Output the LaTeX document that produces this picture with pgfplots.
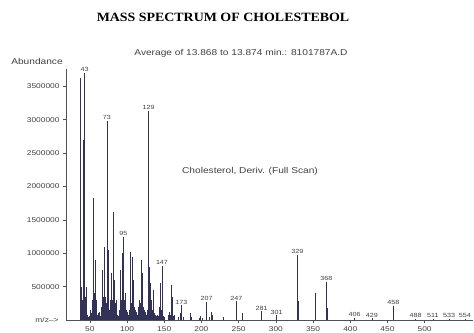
\documentclass[border=0pt]{standalone}
\usepackage{fontspec}
\setmainfont{Liberation Sans}[FakeStretch=1.2]
\newfontfamily\titlefont{Liberation Serif}[FakeStretch=1.1]
\usepackage{pgfplots}
\pgfplotsset{compat=1.18}
\usepackage{pgfplotstable}
\definecolor{spec}{RGB}{50,50,88}
\definecolor{axisgray}{RGB}{80,80,90}

\pgfplotstableread{
mz inten
37 3620000
38 200000
39 500000
40 300000
41 2700000
42 400000
43 3700000
44 350000
45 500000
46 80000
47 60000
48 40000
49 60000
50 120000
51 150000
52 100000
53 300000
54 250000
55 1830000
56 400000
57 900000
58 150000
59 300000
60 80000
61 100000
62 60000
63 120000
64 60000
65 200000
66 150000
67 750000
68 350000
69 1100000
70 300000
71 350000
72 250000
73 2980000
74 450000
75 1050000
76 150000
77 300000
78 180000
79 700000
80 300000
81 1620000
82 300000
83 600000
84 250000
85 300000
86 100000
87 80000
88 60000
89 100000
90 150000
91 750000
92 300000
93 1000000
94 350000
95 1250000
96 300000
97 400000
98 200000
99 150000
100 120000
101 100000
102 80000
103 150000
104 200000
105 1020000
106 250000
107 950000
108 300000
109 600000
110 200000
111 150000
112 100000
113 120000
114 80000
115 200000
116 150000
117 300000
118 250000
119 900000
120 300000
121 700000
122 200000
123 150000
124 100000
125 120000
126 80000
127 150000
128 300000
129 3130000
130 800000
131 550000
132 200000
133 300000
134 150000
135 450000
136 100000
137 100000
138 80000
139 60000
140 60000
141 80000
142 60000
143 200000
144 100000
145 550000
146 150000
147 810000
148 150000
149 60000
150 50000
155 80000
157 120000
158 80000
159 520000
160 100000
161 350000
162 60000
163 80000
169 50000
171 100000
173 220000
175 40000
185 100000
187 40000
197 30000
199 60000
201 30000
207 270000
211 40000
213 120000
215 80000
229 50000
247 280000
255 100000
281 130000
301 70000
329 970000
330 280000
353 400000
368 570000
369 180000
406 30000
429 25000
458 210000
488 20000
511 20000
533 20000
554 20000
}\spectrum

\pgfplotstableread{
mz inten lab
43 3700000 43
73 2980000 73
95 1250000 95
129 3130000 129
147 810000 147
173 220000 173
207 270000 207
247 280000 247
281 130000 281
301 70000 301
329 970000 329
368 570000 368
406 30000 406
429 25000 429
458 210000 458
488 20000 488
511 20000 511
533 20000 533
554 20000 554
}\peaklabels

\begin{document}
\begin{tikzpicture}[x=1bp,y=1bp]
\useasboundingbox (0,0) rectangle (474,332);
\begin{axis}[
  at={(66bp,12bp)}, anchor=south west,
  width=407bp, height=250.5bp, scale only axis,
  xmin=18, xmax=565, ymin=0, ymax=3750000,
  axis lines*=left,
  axis line style={axisgray, line width=0.5pt},
  xtick={50,100,...,500},
  ytick={500000,1000000,...,3500000},
  scaled y ticks=false,
  yticklabel style={/pgf/number format/.cd, fixed, 1000 sep={}, precision=0},
  /pgf/number format/assume math mode=true,
  tick align=outside, major tick length=3bp,
  tick style={axisgray, line width=0.4pt},
  ticklabel style={font=\fontsize{7}{8}\selectfont, text=black!75},
  xticklabel style={yshift=0bp},
  clip=false,
]
\addplot[ycomb, spec, line width=0.55pt, mark=none] table[x=mz, y=inten] {\spectrum};
\addplot[draw=none, mark=none, nodes near coords, point meta=explicit symbolic,
  nodes near coords style={font=\fontsize{6}{7}\selectfont, anchor=south, inner sep=1pt, text=black!75}]
  table[x=mz, y=inten, meta=lab] {\peaklabels};
\end{axis}
\node[font=\titlefont\bfseries\fontsize{12.7}{14}\selectfont] at (223,315) {MASS SPECTRUM OF CHOLESTEBOL};
\node[font=\fontsize{8.5}{10}\selectfont, text=black!75] at (241,279) {Average of 13.868 to 13.874 min.: 8101787A.D};
\node[font=\fontsize{8.5}{10}\selectfont, text=black!75] at (37,271) {Abundance};
\node[font=\fontsize{8.5}{10}\selectfont, text=black!75] at (250,161) {Cholesterol, Deriv. (Full Scan)};
\node[font=\fontsize{7}{8}\selectfont, text=black!75, anchor=east] at (62,12) {m/z-->};
\end{tikzpicture}
\end{document}
